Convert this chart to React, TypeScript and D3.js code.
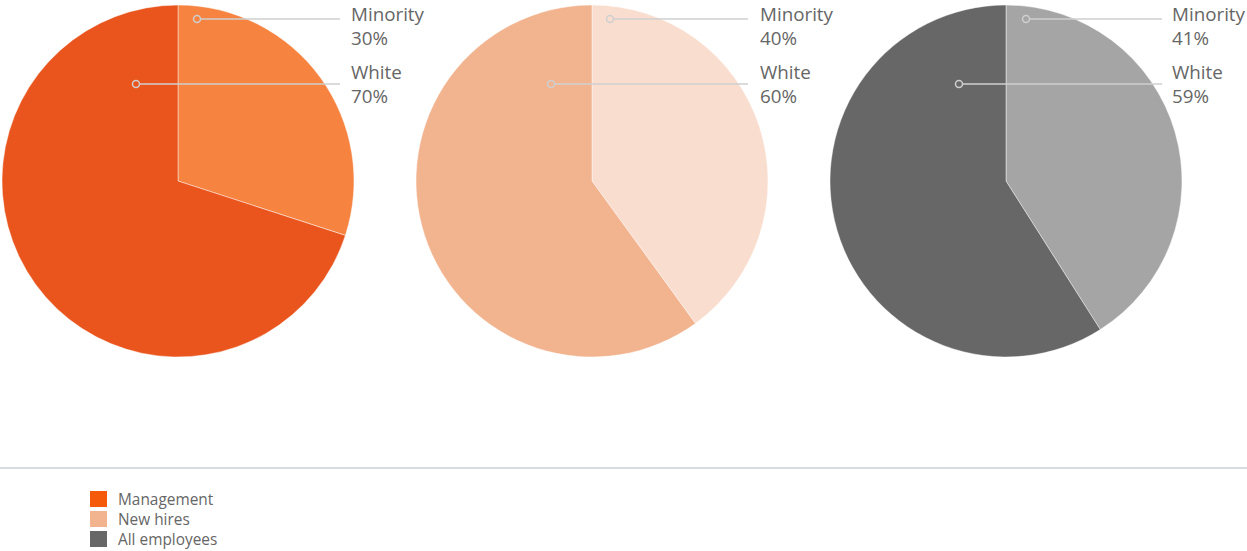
import { useEffect, useRef } from 'react'
import * as d3 from 'd3'

const groups = ['Management', 'New hires', 'All employees']
const categories = ['Minority', 'White']
const minorityShare = [30, 40, 41]
const whiteShare = [70, 60, 59]
const sliceColors = [
  ['#F6833F', '#E9551D'],
  ['#F9DDCE', '#F2B38F'],
  ['#A5A5A5', '#676767'],
]
const legendColors = ['#F45A0A', '#F2B38F', '#676767']

const W = 1247
const H = 551

export default function App() {
  const svgRef = useRef<SVGSVGElement>(null)

  useEffect(() => {
    if (!svgRef.current) return
    const svg = d3.select(svgRef.current)
    svg.selectAll('*').remove()

    const radius = 176
    const centers = [178, 592, 1006]
    const cy = 181

    const pie = d3.pie<{ label: string; value: number }>()
      .value(d => d.value)
      .sort(null)

    const arc = d3.arc<d3.PieArcDatum<{ label: string; value: number }>>()
      .innerRadius(0)
      .outerRadius(radius)

    // label anchors relative to pie center (dot x, y)
    const dotOffsets = [
      [[19, -162], [-42, -97]],
      [[18, -162], [-41, -97]],
      [[20, -162], [-47, -97]],
    ]
    const lineEnds = [162, 156, 156]
    const textX = [173, 168, 166]
    const textDy = [2, -5]

    groups.forEach((g, i) => {
      const data = categories.map((c, j) => ({
        label: c,
        value: j === 0 ? minorityShare[i] : whiteShare[i],
      }))
      const cx = centers[i]
      const gEl = svg.append('g').attr('transform', `translate(${cx},${cy})`)

      gEl.selectAll('path')
        .data(pie(data))
        .enter().append('path')
        .attr('d', arc)
        .attr('fill', (d, j) => sliceColors[i][j])
        .attr('stroke', 'rgba(255,255,255,0.45)')
        .attr('stroke-width', 1)

      data.forEach((d, j) => {
        const [dx, dy] = dotOffsets[i][j]
        gEl.append('line')
          .attr('x1', dx + 4)
          .attr('x2', lineEnds[i])
          .attr('y1', dy)
          .attr('y2', dy)
          .attr('stroke', '#cfcfcf')
          .attr('stroke-width', 1.5)
        gEl.append('circle')
          .attr('cx', dx)
          .attr('cy', dy)
          .attr('r', 3.5)
          .attr('fill', 'none')
          .attr('stroke', '#cfcfcf')
          .attr('stroke-width', 1.5)
        const t = gEl.append('text')
          .attr('x', textX[i])
          .attr('y', dy + textDy[j])
          .style('font-family', '"Open Sans", sans-serif')
          .style('font-size', '18.8px')
          .style('fill', '#666')
        t.append('tspan').attr('x', textX[i]).text(d.label)
        t.append('tspan').attr('x', textX[i]).attr('dy', 24).text(`${d.value}%`)
      })
    })

    // divider
    svg.append('line')
      .attr('x1', 0)
      .attr('x2', W)
      .attr('y1', 468)
      .attr('y2', 468)
      .attr('stroke', '#d9dcdf')
      .attr('stroke-width', 2)

    // legend
    const legend = svg.append('g').attr('transform', 'translate(90,491)')
    groups.forEach((g, i) => {
      legend.append('rect')
        .attr('x', 0)
        .attr('y', i * 20)
        .attr('width', 17)
        .attr('height', 16)
        .attr('fill', legendColors[i])
      legend.append('text')
        .attr('x', 28)
        .attr('y', i * 20 + 13.5)
        .style('font-family', '"Open Sans", sans-serif')
        .style('font-size', '15.4px')
        .style('fill', '#666')
        .text(g)
    })
  }, [])

  return (
    <svg
      ref={svgRef}
      width={W}
      height={H}
      style={{ position: 'absolute', left: 0, top: 0, background: '#fff' }}
    />
  )
}
